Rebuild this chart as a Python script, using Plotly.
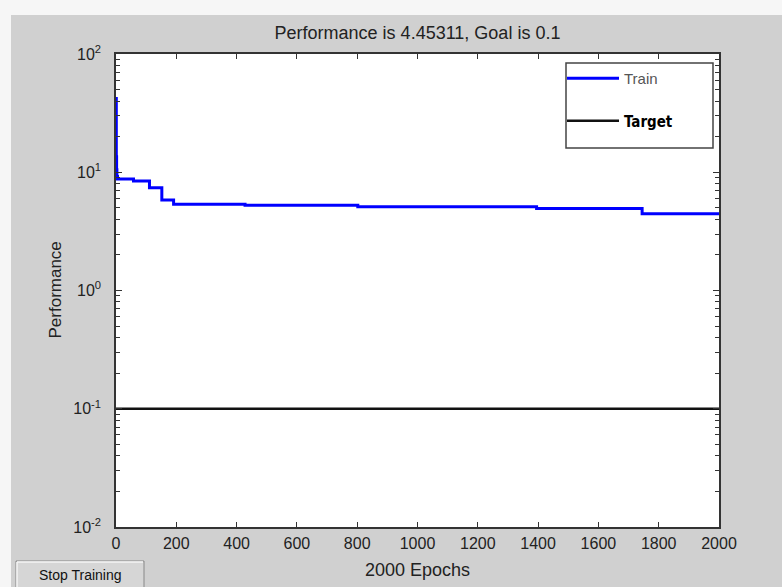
import plotly.graph_objects as go

# ---- data ----
epochs = [0, 1, 2, 3, 5, 58, 111, 152, 191, 428, 802, 1395, 1745, 2000]
train_perf = [42, 13.5, 10.5, 9.2, 8.77, 8.43, 7.39, 5.82, 5.36, 5.25, 5.12, 4.93, 4.453, 4.45311]
goal = 0.1
x_ticks = [0, 200, 400, 600, 800, 1000, 1200, 1400, 1600, 1800, 2000]
y_ticks = [0.01, 0.1, 1, 10, 100]
y_ticktext = ["10<sup>-2</sup>", "10<sup>-1</sup>", "10<sup>0</sup>", "10<sup>1</sup>", "10<sup>2</sup>"]
y_minor = [m * d for d in [0.01, 0.1, 1, 10] for m in range(2, 10)]
title_text = "Performance is 4.45311, Goal is 0.1"

W, H = 782, 587
L, R, T, B = 116, 63, 54, 60
PW, PH = W - L - R, H - T - B

def px(x):
    return (x - L) / PW

def py(y):
    return (H - B - y) / PH

fig = go.Figure()
fig.add_trace(go.Scatter(x=epochs, y=train_perf, mode="lines", line=dict(color="#0000ff", width=3, shape="hv"),
                         name="<span style=\"color:#555\">Train</span>", legendgroup="a"))
fig.add_trace(go.Scatter(x=[x_ticks[0], x_ticks[-1]], y=[goal, goal], mode="lines",
                         line=dict(color="#111111", width=2.5),
                         name="<span style=\"font-family:'DejaVu Sans Condensed';font-weight:bold;color:#000\">Target</span>",
                         legendgroup="b"))

panel = "#d0d0d0"
shapes = [
    dict(type="rect", xref="paper", yref="paper", x0=px(11), x1=px(W + 5), y0=py(H + 5), y1=py(15),
         fillcolor=panel, line=dict(width=0), layer="below"),
    dict(type="rect", xref="paper", yref="paper", x0=0, x1=1, y0=0, y1=1,
         fillcolor="#ffffff", line=dict(width=0), layer="below"),
    # legend box
    dict(type="rect", xref="paper", yref="paper", x0=px(566), x1=px(713), y0=py(148), y1=py(63),
         fillcolor="#ffffff", line=dict(color="#444444", width=1.5), layer="above"),
    # button
    dict(type="rect", xref="paper", yref="paper", x0=px(16), x1=px(144), y0=py(H + 5), y1=py(561),
         fillcolor="#d6d6d6", line=dict(color="#888888", width=1), layer="above"),
    dict(type="line", xref="paper", yref="paper", x0=px(17), x1=px(143), y0=py(562), y1=py(562),
         line=dict(color="#f4f4f4", width=1.5)),
    dict(type="line", xref="paper", yref="paper", x0=px(17), x1=px(17), y0=py(562), y1=py(H),
         line=dict(color="#f4f4f4", width=1.5)),
]

annotations = [
    dict(text="2000 Epochs", xref="paper", yref="paper", x=0.5, y=py(570), showarrow=False,
         font=dict(size=18, color="#222"), xanchor="center", yanchor="middle"),
    dict(text="Performance", xref="paper", yref="paper", x=px(55), y=0.5, showarrow=False, textangle=-90,
         font=dict(size=17, color="#222"), xanchor="center", yanchor="middle"),
    dict(text="Stop Training", xref="paper", yref="paper", x=px(80), y=py(575), showarrow=False,
         font=dict(size=14, color="#111"), xanchor="center", yanchor="middle"),
]

fig.update_layout(
    width=W, height=H,
    margin=dict(l=L, r=R, t=T, b=B),
    paper_bgcolor="#f6f6f6",
    plot_bgcolor="#ffffff",
    font=dict(family="Liberation Sans, Arial, sans-serif", size=12, color="#222"),
    title=dict(text=title_text, x=0.5, xref="paper", xanchor="center", y=1 - 33 / H, yref="container",
               yanchor="middle", font=dict(size=18, color="#222")),
    showlegend=True,
    legend=dict(x=px(562), y=py(62), xanchor="left", yanchor="top", bgcolor="rgba(0,0,0,0)",
                borderwidth=0, tracegroupgap=20, itemwidth=52,
                font=dict(size=15, color="#333")),
    shapes=shapes,
    annotations=annotations,
)

fig.update_xaxes(range=[x_ticks[0], x_ticks[-1]], tickvals=x_ticks, ticks="inside", ticklen=5,
                 tickcolor="#333", showline=True, linecolor="#333", linewidth=1.5, mirror="allticks",
                 showgrid=False, zeroline=False, tickfont=dict(size=16, color="#222"),
                 ticklabelstandoff=1)
fig.update_yaxes(type="log", range=[-2, 2], tickvals=y_ticks, ticktext=y_ticktext, ticks="inside", ticklen=6,
                 tickcolor="#333", showline=True, linecolor="#333", linewidth=1.5, mirror="allticks",
                 showgrid=False, zeroline=False, tickfont=dict(size=16, color="#222"),
                 ticklabelstandoff=10,
                 minor=dict(tickvals=y_minor, ticks="inside", ticklen=4, tickcolor="#333"))

fig.write_html("out.html")
